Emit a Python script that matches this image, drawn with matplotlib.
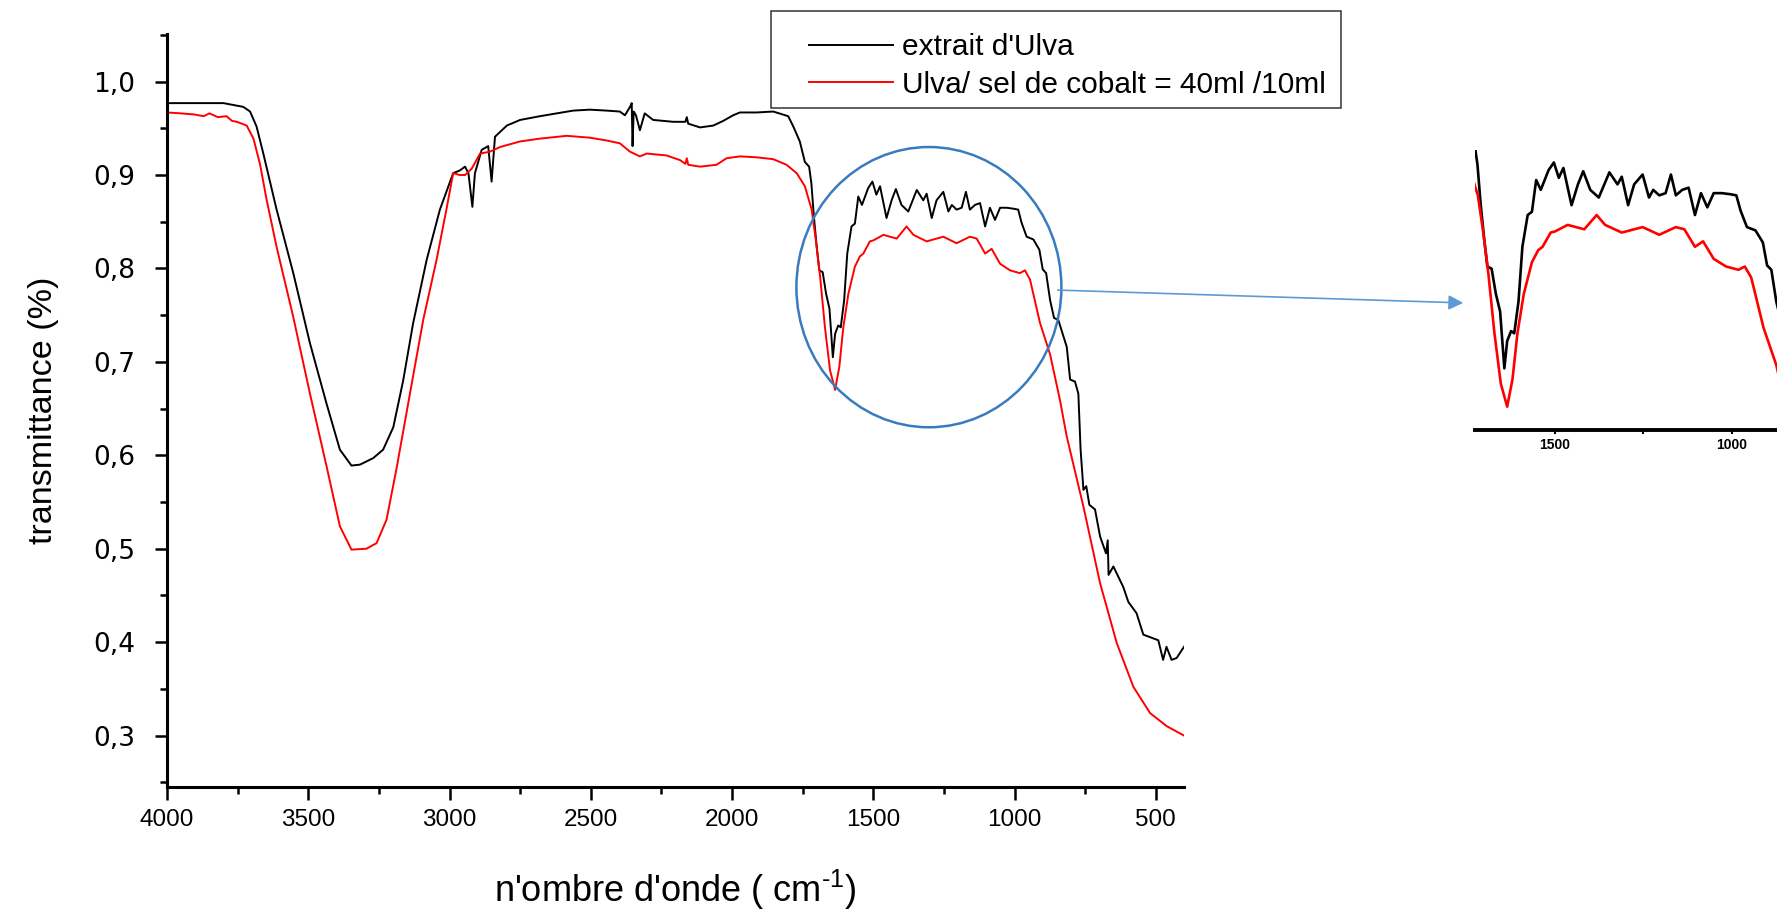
import matplotlib

matplotlib.use("Agg")
import matplotlib.pyplot as plt
from matplotlib import font_manager
from matplotlib.patches import Ellipse, FancyArrowPatch, Rectangle
from matplotlib.ticker import FuncFormatter, MultipleLocator

# FTIR spectra (wavenumber cm-1, transmittance)
WN_ULVA = [4000, 3900, 3800, 3730, 3706, 3683, 3659, 3612, 3553, 3494, 3435, 3388, 3347, 3317, 3270, 3235,
           3199, 3164, 3129, 3081, 3034, 2987, 2963, 2945, 2933, 2919, 2910, 2886, 2863, 2851, 2839, 2797,
           2750, 2680, 2621, 2562, 2503, 2444, 2397, 2379, 2361, 2355, 2352, 2348, 2340, 2326, 2309, 2279,
           2208, 2165, 2160, 2155, 2113, 2066, 2031, 1996, 1972, 1913, 1854, 1801, 1783, 1760, 1742, 1727,
           1719, 1710, 1700, 1691, 1679, 1667, 1655, 1643, 1635, 1624, 1615, 1603, 1592, 1577, 1565, 1553,
           1540, 1518, 1503, 1489, 1476, 1453, 1435, 1420, 1400, 1376, 1346, 1323, 1311, 1293, 1276, 1252,
           1234, 1222, 1205, 1187, 1172, 1158, 1140, 1122, 1104, 1087, 1069, 1051, 1028, 1004, 987, 975,
           957, 933, 912, 900, 888, 874, 860, 845, 815, 803, 786, 774, 766, 756, 746, 735, 715, 697, 676,
           670, 667, 650, 615, 597, 568, 544, 509, 491, 474, 462, 444, 426, 400]
T_ULVA = [0.977, 0.977, 0.977, 0.973, 0.968, 0.952, 0.923, 0.863, 0.795, 0.720, 0.655, 0.606, 0.589, 0.590,
          0.597, 0.606, 0.630, 0.680, 0.741, 0.809, 0.863, 0.902, 0.905, 0.909, 0.902, 0.866, 0.902, 0.927,
          0.931, 0.893, 0.941, 0.953, 0.959, 0.963, 0.966, 0.969, 0.970, 0.969, 0.968, 0.964, 0.973, 0.977,
          0.931, 0.968, 0.964, 0.948, 0.966, 0.959, 0.957, 0.957, 0.962, 0.955, 0.951, 0.953, 0.958, 0.964,
          0.967, 0.967, 0.968, 0.963, 0.952, 0.936, 0.914, 0.909, 0.891, 0.855, 0.823, 0.798, 0.796, 0.773,
          0.757, 0.705, 0.730, 0.739, 0.737, 0.766, 0.816, 0.845, 0.848, 0.877, 0.868, 0.886, 0.893, 0.879,
          0.888, 0.854, 0.873, 0.885, 0.868, 0.861, 0.884, 0.873, 0.880, 0.854, 0.873, 0.882, 0.861, 0.868,
          0.863, 0.865, 0.882, 0.863, 0.868, 0.870, 0.845, 0.865, 0.852, 0.865, 0.865, 0.864, 0.863, 0.849,
          0.834, 0.831, 0.820, 0.799, 0.795, 0.766, 0.747, 0.745, 0.716, 0.681, 0.679, 0.666, 0.606, 0.563,
          0.567, 0.547, 0.542, 0.513, 0.495, 0.509, 0.472, 0.481, 0.459, 0.443, 0.431, 0.408, 0.404, 0.402,
          0.381, 0.395, 0.381, 0.383, 0.395]

WN_COBALT = [4000, 3950, 3907, 3870, 3850, 3820, 3789, 3770, 3753, 3735, 3718, 3694, 3671, 3647, 3612, 3553,
             3494, 3435, 3388, 3347, 3294, 3258, 3223, 3188, 3140, 3093, 3046, 3011, 2987, 2963, 2945, 2921,
             2892, 2857, 2821, 2750, 2680, 2585, 2503, 2444, 2397, 2361, 2326, 2302, 2232, 2184, 2165, 2160,
             2155, 2113, 2055, 2019, 1972, 1913, 1854, 1807, 1771, 1742, 1718, 1703, 1688, 1671, 1653, 1635,
             1620, 1606, 1588, 1565, 1547, 1535, 1512, 1500, 1476, 1464, 1417, 1382, 1358, 1311, 1252, 1205,
             1158, 1134, 1104, 1081, 1051, 1016, 981, 963, 945, 910, 874, 839, 815, 756, 697, 638, 579, 520,
             461, 400]
T_COBALT = [0.967, 0.966, 0.965, 0.963, 0.966, 0.962, 0.963, 0.958, 0.957, 0.955, 0.953, 0.939, 0.912, 0.873,
            0.823, 0.748, 0.666, 0.588, 0.524, 0.499, 0.500, 0.506, 0.531, 0.585, 0.666, 0.745, 0.809, 0.863,
            0.902, 0.900, 0.900, 0.907, 0.923, 0.925, 0.930, 0.936, 0.939, 0.942, 0.940, 0.937, 0.934, 0.925,
            0.920, 0.923, 0.921, 0.916, 0.912, 0.918, 0.911, 0.909, 0.911, 0.918, 0.920, 0.919, 0.917, 0.911,
            0.902, 0.888, 0.863, 0.830, 0.791, 0.737, 0.691, 0.670, 0.695, 0.737, 0.773, 0.802, 0.813, 0.816,
            0.829, 0.830, 0.834, 0.836, 0.832, 0.845, 0.836, 0.829, 0.834, 0.827, 0.834, 0.832, 0.816, 0.821,
            0.805, 0.798, 0.795, 0.798, 0.788, 0.742, 0.708, 0.659, 0.620, 0.545, 0.463, 0.399, 0.352, 0.324,
            0.310, 0.300]

LABELS = ["extrait d'Ulva", "Ulva/ sel de cobalt = 40ml /10ml"]
COLORS = ["#000000", "#ff0000"]

assert len(WN_ULVA) == len(T_ULVA) and len(WN_COBALT) == len(T_COBALT)

names = {f.name for f in font_manager.fontManager.ttflist}
NARROW = "Liberation Sans Narrow" if "Liberation Sans Narrow" in names else "Liberation Sans"
plt.rcParams["font.family"] = ["Liberation Sans", "DejaVu Sans"]
plt.rcParams["axes.unicode_minus"] = False

W, H = 1777, 910
fig = plt.figure(figsize=(W / 100, H / 100), dpi=100)

# main axes, placed in pixel terms of the reference
ax = fig.add_axes([167 / W, 1 - 787 / H, (1184 - 167) / W, (787 - 34) / H])
series = [(WN_ULVA, T_ULVA), (WN_COBALT, T_COBALT)]
for (wn, t), lab, col in zip(series, LABELS, COLORS):
    ax.plot(wn, t, color=col, lw=1.4, label=lab)

ax.set_xlim(4000, 400)
ax.set_ylim(0.2449, 1.051)
ax.xaxis.set_major_locator(MultipleLocator(500))
ax.xaxis.set_minor_locator(MultipleLocator(250))
ax.yaxis.set_major_locator(MultipleLocator(0.1))
ax.yaxis.set_minor_locator(MultipleLocator(0.05))
ax.yaxis.set_major_formatter(FuncFormatter(lambda v, _: f"{v:.1f}".replace(".", ",")))
ax.spines["top"].set_visible(False)
ax.spines["right"].set_visible(False)
for side in ("left", "bottom"):
    ax.spines[side].set_linewidth(2.2)
ax.tick_params(which="major", length=9, width=1.8, direction="out")
ax.tick_params(which="minor", length=5, width=1.8, direction="out")
ax.tick_params(axis="y", which="major", pad=14)
ax.tick_params(axis="x", which="major", pad=7)
for lbl in ax.get_yticklabels():
    lbl.set_fontfamily("DejaVu Sans")
    lbl.set_fontsize(19)
for lbl in ax.get_xticklabels():
    lbl.set_fontfamily(NARROW)
    lbl.set_fontsize(17.5)

# superscript written with a real hyphen (U+2010) so it reads "-1" like the original
ax.set_xlabel("n'ombre d'onde ( cm$^{\\mathregular{\u20101}}$)", fontfamily=NARROW, fontsize=26, labelpad=26)
ax.set_ylabel("transmittance (%)", fontfamily=NARROW, fontsize=24.5)
ax.yaxis.set_label_coords(-0.106, 0.5)

# highlight ellipse around the 1700-870 cm-1 region
ax.add_patch(Ellipse((1303, 0.780), 938, 0.300, fill=False, edgecolor="#3a7bbf", lw=1.8, zorder=5))

# legend, drawn with its own frame
leg = fig.legend(loc="upper left", bbox_to_anchor=(809 / W, 1 - 33 / H), frameon=False,
                 fontsize=21.5, handlelength=2.8, handletextpad=0.3, labelspacing=0.33, borderpad=0,
                 borderaxespad=0)
fig.add_artist(Rectangle((771 / W, 1 - 108 / H), 570 / W, 97 / H, transform=fig.transFigure,
                         fill=False, edgecolor="#333333", lw=1.1))

# arrow towards the zoomed inset
fig.add_artist(FancyArrowPatch((1055 / W, 1 - 290 / H), (1466 / W, 1 - 303 / H),
                               transform=fig.transFigure, arrowstyle="-|>", mutation_scale=22,
                               color="#5b9bd5", lw=1.2))

# zoomed inset
axi = fig.add_axes([1475 / W, 1 - 430 / H, (W - 1475) / W, (430 - 150) / H])
for (wn, t), col in zip(series, COLORS):
    axi.plot(wn, t, color=col, lw=1.9)
axi.set_xlim(1726, 872)
axi.set_ylim(0.6487, 0.9044)
for side in ("top", "right", "left"):
    axi.spines[side].set_visible(False)
axi.spines["bottom"].set_linewidth(2.8)
axi.set_yticks([])
axi.xaxis.set_major_locator(MultipleLocator(500))
axi.xaxis.set_minor_locator(MultipleLocator(250))
axi.tick_params(axis="x", which="both", length=3, width=1.5, pad=3)
for lbl in axi.get_xticklabels():
    lbl.set_fontsize(10)
    lbl.set_fontweight("bold")

fig.savefig("out.png", dpi=100)
